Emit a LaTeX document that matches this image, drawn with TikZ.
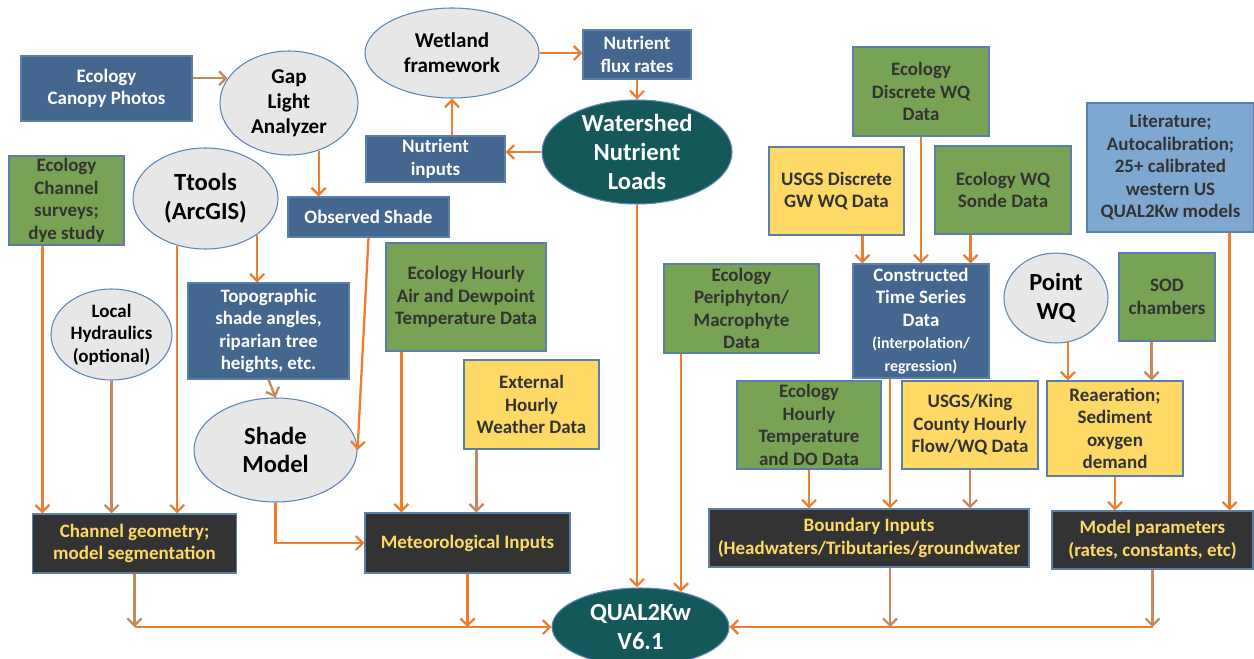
\documentclass[tikz,border=0pt]{standalone}
\usepackage{fontspec}
\setsansfont{Carlito}
\usetikzlibrary{arrows.meta, shapes.geometric, calc}

\definecolor{boxblue}{HTML}{44678F}
\definecolor{boxgreen}{HTML}{78A355}
\definecolor{boxyellow}{HTML}{FFD966}
\definecolor{boxsky}{HTML}{7FA8D0}
\definecolor{boxdark}{HTML}{333333}
\definecolor{ellgray}{HTML}{E7E7E7}
\definecolor{deepteal}{HTML}{15585A}
\definecolor{edgeblue}{HTML}{5A7FA8}
\definecolor{ellblue}{HTML}{5B86B5}
\definecolor{arrorange}{HTML}{ED7D31}
\definecolor{arrtan}{HTML}{C8875C}
\definecolor{txtdark}{HTML}{333333}
\definecolor{txtgold}{HTML}{FFD966}

\newcommand\smallfs{\fontsize{9}{11.3}\selectfont}

\begin{document}
\begin{tikzpicture}[
  x=0.02cm, y=-0.02cm,
  font=\sffamily\bfseries\fontsize{10.8}{12.8}\selectfont,
  sz/.style 2 args={minimum width=#1*0.02cm, minimum height=#2*0.02cm},
  box/.style={rectangle, draw=edgeblue, line width=0.6pt, fill=#1, text=txtdark,
              align=center, inner sep=1pt},
  bbox/.style={box=boxblue, text=white},
  dbox/.style={box=boxdark, text=txtgold},
  ell/.style={ellipse, draw=ellblue, line width=0.6pt, fill=#1, align=center,
              inner xsep=0pt, inner ysep=-6pt},
  big/.style={font=\sffamily\bfseries\fontsize{14}{16.4}\selectfont},
  mid/.style={font=\sffamily\bfseries\fontsize{12}{14.3}\selectfont},
  arr/.style={draw=arrorange, line width=1.3pt, -{Straight Barb[length=4pt, width=8pt]}},
  arrt/.style={arr, draw=arrtan},
]
\path[use as bounding box, fill=white] (0,0) rectangle (1254,659);

% ================= NODES (explicit coords, px) =================
\node[bbox, sz={171}{65}]                   (canopy)    at (106.5,88.5)  {Ecology\\Canopy Photos};
\node[ell=ellgray, mid, sz={138}{104}]      (gap)       at (289,103)     {Gap\\Light\\Analyzer};
\node[ell=ellgray, mid, sz={174}{90}]       (wetland)   at (452,53)      {Wetland\\framework};
\node[bbox, sz={108}{49}]                   (flux)      at (637,54.5)    {Nutrient\\flux rates};
\node[ell=deepteal, big, text=white, sz={190}{104}] (watershed) at (637,152) {Watershed\\Nutrient\\Loads};
\node[bbox, sz={139}{46}]                   (ninputs)   at (435.5,159)   {Nutrient\\inputs};

\node[box=boxgreen, sz={115}{89}]           (survey)    at (66.5,200.5)  {Ecology\\Channel\\surveys;\\dye study};
\node[ell=ellgray, big, sz={145}{101}]      (ttools)    at (205.5,198.5) {Ttools\\(ArcGIS)};
\node[bbox, sz={161}{40}]                   (obsshade)  at (368.5,217)   {Observed Shade};
\node[ell=ellgray, sz={121}{91}]            (hydr)      at (111.5,334.5) {Local\\Hydraulics\\(optional)};
\node[bbox, sz={161}{96}]                   (topo)      at (268.5,331)   {Topographic\\shade angles,\\riparian tree\\heights, etc.};
\node[ell=ellgray, big, sz={163}{104}]      (shade)     at (275.5,450)   {Shade\\Model};
\node[box=boxgreen, sz={160}{108}]          (airtemp)   at (466,297)     {Ecology Hourly\\Air and Dewpoint\\Temperature Data};
\node[box=boxyellow, sz={135}{89}]          (weather)   at (531.5,404.5) {External\\Hourly\\Weather Data};

\node[box=boxgreen, sz={155}{89}]           (periph)    at (741.5,308.5) {Ecology\\Periphyton/\\Macrophyte\\Data};
\node[box=boxgreen, sz={136}{89}]           (discwq)    at (921,91.5)    {Ecology\\Discrete WQ\\Data};
\node[box=boxyellow, sz={135}{88}]          (gwwq)      at (836.5,191)   {USGS Discrete\\GW WQ Data};
\node[box=boxgreen, sz={136}{88}]           (sonde)     at (1003,190)    {Ecology WQ\\Sonde Data};
\node[box=boxsky, sz={167}{129}]            (lit)       at (1170.5,167.5) {Literature;\\Autocalibration;\\25+ calibrated\\western US\\QUAL2Kw models};
\node[bbox, sz={136}{114}]                  (tseries)   at (921,321)     {Constructed\\Time Series\\Data\\\smallfs (interpolation/\\\smallfs regression)};
\node[ell=ellgray, big, sz={104}{90}]       (pointwq)   at (1056,298)    {Point\\WQ};
\node[box=boxgreen, sz={96}{88}]            (sod)       at (1167,297)    {SOD\\chambers};
\node[box=boxgreen, sz={144}{88}]           (tempdo)    at (809,425)     {Ecology\\Hourly\\Temperature\\and DO Data};
\node[box=boxyellow, sz={136}{88}]          (kingco)    at (970,425)     {USGS/King\\County Hourly\\Flow/WQ Data};
\node[box=boxyellow, sz={136}{95}]          (reaer)     at (1115,428.5)  {Reaeration;\\Sediment\\oxygen\\demand};

% outputs feeding the model
\node[dbox, sz={204}{59}]                   (chgeom)    at (134.5,543.5) {Channel geometry;\\model segmentation};
\node[dbox, sz={205}{60}]                   (metin)     at (467.5,543)   {Meteorological Inputs};
\node[dbox, sz={320}{58}]                   (bound)     at (869,538)     {Boundary Inputs\\(Headwaters/Tributaries/groundwater};
\node[dbox, sz={201}{58}]                   (modpar)    at (1152.5,540)  {Model parameters\\(rates, constants, etc)};
\node[ell=deepteal, big, text=white, sz={177}{78}] (qual) at (640.5,627) {QUAL2Kw\\V6.1};

% ================= EDGES =================
\draw[arrt] (canopy.east |- gap.158) -- (gap.158);
\draw[arr] (gap.-58) -- (gap.-58 |- obsshade.north);
\draw[arr] (wetland.east) -- (wetland.east -| flux.west);
\draw[arr] (flux.south) -- (flux.south |- watershed.north);
\draw[arr] (watershed.west) -- (watershed.west -| ninputs.east);
\draw[arr] (ninputs.north -| wetland.south) -- (wetland.south);

\draw[arr] ($(survey.south west)+(34,0)$) coordinate (s1) -- (s1 |- chgeom.north);
\draw[arrt] (hydr.south) -- (hydr.south |- chgeom.north);
\draw[arr] (ttools.239) -- (ttools.239 |- chgeom.north);
\draw[arr] (ttools.-35) -- (ttools.-35 |- topo.north);
\draw[arrt] (topo.south) -- (shade.north);
\draw[arr] (obsshade.south) -- (shade.east);
\draw[arr] (shade.south) |- (metin.west);

\draw[arr] ($(airtemp.south west)+(16,0)$) coordinate (a1) -- (a1 |- metin.north);
\draw[arrt] ($(weather.south west)+(13,0)$) coordinate (w1) -- (w1 |- metin.north);

\coordinate (t1) at ($(tseries.north west)+(10,0)$);
\coordinate (t3) at ($(tseries.north east)+(-19,0)$);
\draw[arr] (t1 |- gwwq.south) -- (t1);
\draw[arr] (discwq.south) -- (tseries.north);
\draw[arr] (t3 |- sonde.south) -- (t3);

\draw[arr] (tempdo.south) -- (tempdo.south |- bound.north);
\draw[arr] ($(tseries.south)+(-31,0)$) coordinate (t2) -- (t2 |- bound.north);
\draw[arrt] (kingco.south) -- (kingco.south |- bound.north);

\coordinate (r2) at ($(reaer.north east)+(-32,0)$);
\coordinate (m2) at ($(modpar.north east)+(-24,0)$);
\draw[arr] (pointwq.-75) -- (pointwq.-75 |- reaer.north);
\draw[arrt] (r2 |- sod.south) -- (r2);
\draw[arr] (reaer.south) -- (reaer.south |- modpar.north);
\draw[arr] (m2 |- lit.south) -- (m2);

% collectors into QUAL2Kw
\coordinate (jl) at (chgeom.south |- qual.west);
\coordinate (jr) at (modpar.south |- qual.east);
\draw[arrt] (chgeom.south) -- (jl);
\draw[arr] (metin.south) -- (metin.south |- jl);
\draw[arr] (jl) -- (qual.west);
\draw[arrt] ($(bound.south)+(21,0)$) coordinate (b1) -- (b1 |- jr);
\draw[arrt] (modpar.south) -- (jr);
\draw[arr] (jr) -- (qual.east);
\draw[arr] (watershed.south) -- (watershed.south |- qual.north);
\draw[arr] (qual.41 |- periph.south) -- (qual.41);

\end{tikzpicture}
\end{document}
